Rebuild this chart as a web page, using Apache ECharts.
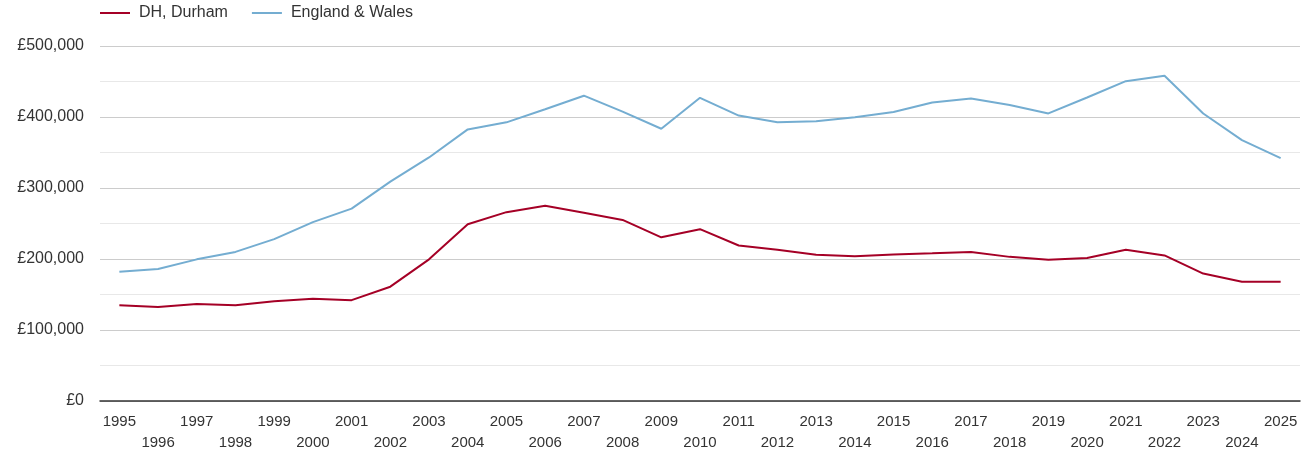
<!DOCTYPE html>
<html>
<head>
<meta charset="utf-8">
<script src="https://cdn.jsdelivr.net/npm/echarts@6/dist/echarts.min.js"></script>
<style>
  html, body { margin: 0; padding: 0; background: #fff; }
  #container { width: 1305px; height: 450px; }
</style>
</head>
<body>
<div id="container"></div>
<script>
var years = [1995, 1996, 1997, 1998, 1999, 2000, 2001, 2002, 2003, 2004,
             2005, 2006, 2007, 2008, 2009, 2010, 2011, 2012, 2013, 2014,
             2015, 2016, 2017, 2018, 2019, 2020, 2021, 2022, 2023, 2024, 2025];

// average prices
var durham = [135000, 132500, 136500, 135000, 140500, 144000, 142000, 161000, 199500, 249000,
              266000, 275000, 265000, 255000, 230500, 242000, 219000, 213000, 206000, 204000,
              206500, 208000, 210000, 203000, 198800, 201500, 213000, 205000, 179500, 168000, 168000];

var englandWales = [182000, 186000, 199500, 210000, 228000, 252000, 271000, 309000, 343000, 382500,
                    392500, 411000, 430000, 407500, 383500, 427000, 402000, 392500, 394000, 399500,
                    407000, 420500, 426000, 417000, 405000, 427500, 450500, 458000, 405000, 367500, 342000];

var seriesNames = ['DH, Durham', 'England & Wales'];
var seriesColors = ['#a50026', '#74add1'];

function pairs(vals) {
    return years.map(function (y, i) { return [y, vals[i]]; });
}

var dom = document.getElementById("container");
var myChart = echarts.init(dom);
var option = null;

option = {
    animation: false,
    textStyle: { fontFamily: 'Arial, "Liberation Sans", sans-serif' },
    legend: {
        left: 100,
        top: 0,
        padding: [5, 0, 0, 0],
        icon: 'rect',
        itemWidth: 30,
        itemHeight: 2,
        itemGap: 24,
        textStyle: { fontSize: 16, color: '#333', padding: [0, 0, 0, 4] },
        data: seriesNames
    },
    grid: {
        left: 100,
        right: 5,
        top: 46,
        bottom: 49,
        outerBoundsMode: 'none'
    },
    xAxis: {
        type: 'value',
        min: 1994.5,
        max: 2025.5,
        axisLine: { show: true, onZero: false, lineStyle: { color: '#333', width: 1.5 } },
        axisTick: { show: false },
        splitLine: { show: false },
        axisLabel: {
            customValues: years,
            fontSize: 15,
            color: '#333',
            margin: 10,
            lineHeight: 21,
            formatter: function (v) {
                return (v - 1995) % 2 ? '\n' + v : String(v);
            }
        }
    },
    yAxis: {
        type: 'value',
        min: 0,
        max: 500000,
        interval: 50000,
        axisLine: { show: false },
        axisTick: { show: false },
        splitLine: { lineStyle: { color: ['#ccc', '#e8e8e8'], width: 1 } },
        axisLabel: {
            fontSize: 16,
            color: '#333',
            margin: 16,
            formatter: function (v) {
                if (v % 100000) return '';
                return '£' + v.toLocaleString('en-GB');
            }
        }
    },
    series: [
        {
            name: seriesNames[0],
            type: 'line',
            symbol: 'none',
            lineStyle: { width: 2, color: seriesColors[0] },
            itemStyle: { color: seriesColors[0] },
            data: pairs(durham)
        },
        {
            name: seriesNames[1],
            type: 'line',
            symbol: 'none',
            lineStyle: { width: 2, color: seriesColors[1] },
            itemStyle: { color: seriesColors[1] },
            data: pairs(englandWales)
        }
    ]
};

if (option && typeof option === "object") {
    myChart.setOption(option, true);
}
</script>
</body>
</html>
